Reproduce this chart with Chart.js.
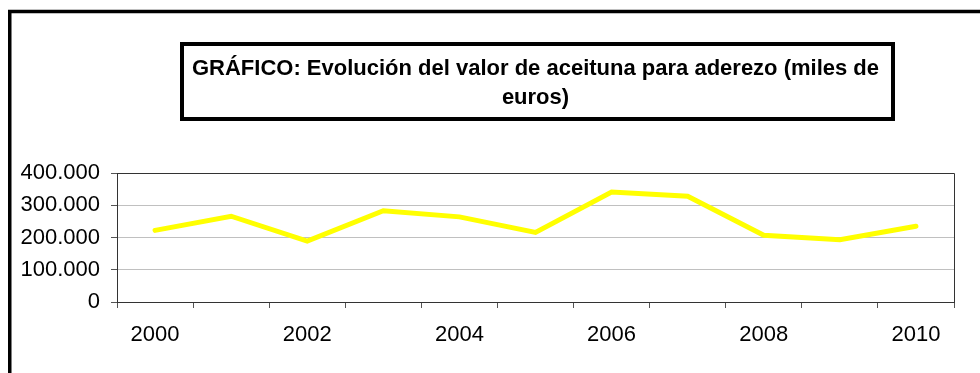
<!DOCTYPE html>
<html>
<head>
<meta charset="utf-8">
<script src="https://cdn.jsdelivr.net/npm/chart.js@4"></script>
<style>
  html, body { margin: 0; padding: 0; background: #fff; }
  canvas { display: block; }
</style>
</head>
<body>
<canvas id="graficoAceituna" width="980" height="373"></canvas>
<script>
const anios = ['2000', '2001', '2002', '2003', '2004', '2005', '2006', '2007', '2008', '2009', '2010'];
const valorAceituna = [222000, 266000, 189000, 283000, 264000, 216000, 341000, 328000, 207000, 193000, 235000];
const ticksY = [0, 100000, 200000, 300000, 400000];
const tituloLineas = ['GRÁFICO: Evolución del valor de aceituna para aderezo (miles de', 'euros)'];

const fuente = '"Liberation Sans", Arial, sans-serif';

// miles con punto: 400000 -> 400.000
const formatoMiles = (v) => String(Math.round(v)).replace(/\B(?=(\d{3})+(?!\d))/g, '.');

// marco exterior, recuadro del titulo y borde superior/derecho del area de trazado
const marcos = {
    id: 'marcos',
    afterDraw(chart) {
        const ctx = chart.ctx;
        const area = chart.chartArea;
        ctx.save();

        ctx.strokeStyle = '#000';
        ctx.lineWidth = 3.5;
        ctx.beginPath();
        ctx.moveTo(9.75, 380);
        ctx.lineTo(9.75, 11.5);
        ctx.lineTo(990, 11.5);
        ctx.stroke();

        ctx.lineWidth = 4;
        ctx.strokeRect(182, 44, 711, 75);

        ctx.fillStyle = '#000';
        ctx.font = 'bold 22px ' + fuente;
        ctx.textAlign = 'center';
        ctx.textBaseline = 'alphabetic';
        const cx = (area.left + area.right) / 2;
        ctx.fillText(tituloLineas[0], cx, 75);
        ctx.fillText(tituloLineas[1], cx, 104);

        ctx.strokeStyle = '#333';
        ctx.lineWidth = 1;
        ctx.beginPath();
        ctx.moveTo(Math.round(area.left) + 0.5, Math.round(area.top) + 0.5);
        ctx.lineTo(Math.round(area.right) + 0.5, Math.round(area.top) + 0.5);
        ctx.lineTo(Math.round(area.right) + 0.5, Math.round(area.bottom) + 0.5);
        ctx.stroke();

        ctx.restore();
    }
};

const data = {
    labels: anios,
    datasets: [
        {
            label: 'Valor aceituna para aderezo',
            data: valorAceituna,
            borderColor: '#FFFF00',
            backgroundColor: '#FFFF00',
            borderWidth: 5,
            borderCapStyle: 'round',
            pointRadius: 0,
            pointHoverRadius: 0,
            tension: 0,
            fill: false,
        }
    ]
};

const config = {
    type: 'line',
    data: data,
    options: {
        responsive: false,
        animation: false,
        events: [],
        layout: {
            padding: { left: 0, right: 26, top: 173, bottom: 0 }
        },
        plugins: {
            legend: { display: false },
            title: { display: false },
            tooltip: { enabled: false }
        },
        scales: {
            x: {
                type: 'category',
                offset: true,
                grid: {
                    offset: true,
                    drawOnChartArea: false,
                    drawTicks: true,
                    tickLength: 6,
                    color: '#555'
                },
                border: { display: true, color: '#333', width: 1 },
                ticks: {
                    autoSkip: false,
                    maxRotation: 0,
                    padding: 14,
                    color: '#000',
                    font: { family: fuente, size: 22 },
                    callback: function (value, index) {
                        return index % 2 === 0 ? this.getLabelForValue(value) : '';
                    }
                },
                afterFit(scale) { scale.height = 71; }
            },
            y: {
                min: 0,
                max: 400000,
                afterBuildTicks(scale) {
                    scale.ticks = ticksY.map(v => ({ value: v }));
                },
                grid: {
                    color: '#c0c0c0',
                    tickColor: '#555',
                    tickLength: 6,
                    drawTicks: true
                },
                border: { display: true, color: '#333', width: 1 },
                ticks: {
                    padding: 11,
                    color: '#000',
                    font: { family: fuente, size: 22 },
                    callback: (v) => formatoMiles(v)
                },
                afterFit(scale) { scale.width = 117; }
            }
        }
    },
    plugins: [marcos]
};

const myChart = new Chart(
    document.getElementById('graficoAceituna'),
    config
);
</script>
</body>
</html>
